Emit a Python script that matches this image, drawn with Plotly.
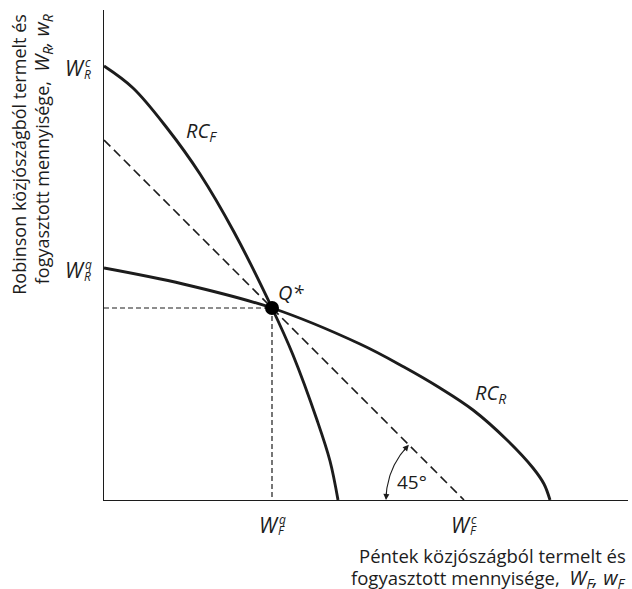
import numpy as np
import plotly.graph_objects as go

# ---- data ----
rcf_x = [0, 2.9, 6.3, 9.6, 13.0, 16.8, 18.9, 21.3, 22.6, 23.4]
rcf_y = [43.4, 41.2, 37.2, 32.6, 26.8, 19.2, 14.5, 8.0, 3.9, 0]
rcr_x = [0, 7.9, 16.8, 25.6, 30.0, 33.6, 36.9, 40.3, 42.9, 44.0, 44.6]
rcr_y = [23.2, 21.6, 19.2, 15.6, 13.3, 11.2, 9.0, 6.0, 3.2, 1.6, 0]
q_star = [16.8, 19.2]
diag_intercept = 36.0  # 45-degree dashed line
x_tick_vals = [16.8, 36.0]
x_tick_sup = ["q", "c"]
x_tick_sub = "F"
y_tick_vals = [43.4, 23.2]
y_tick_sup = ["c", "q"]
y_tick_sub = "R"
angle_label = "45°"
x_title_lines = ["Péntek közjószágból termelt és",
                 "fogyasztott mennyisége,&nbsp;&nbsp;<span style='font-size:20px'><i>W<sub>F</sub>, w<sub>F</sub></i></span>"]
y_title = ("Robinson közjószágból termelt és<br>fogyasztott mennyisége,&nbsp;&nbsp;"
           "<span style='font-size:20px'><i>W<sub>R</sub>, w<sub>R</sub></i></span>")

INK = "#1c1c1c"
FONT = "Open Sans"

fig = go.Figure()

# dashed guide lines
fig.add_trace(go.Scatter(x=[0, diag_intercept], y=[diag_intercept, 0], mode="lines",
                         line=dict(color=INK, width=1.6, dash="9px,5px"), hoverinfo="skip"))
fig.add_trace(go.Scatter(x=[0, q_star[0]], y=[q_star[1], q_star[1]], mode="lines",
                         line=dict(color=INK, width=1.2, dash="5px,3px"), hoverinfo="skip"))
fig.add_trace(go.Scatter(x=[q_star[0], q_star[0]], y=[q_star[1], 0], mode="lines",
                         line=dict(color=INK, width=1.2, dash="5px,3px"), hoverinfo="skip"))

# reaction curves
fig.add_trace(go.Scatter(x=rcf_x, y=rcf_y, mode="lines",
                         line=dict(color=INK, width=2.9, shape="spline", smoothing=1.0), hoverinfo="skip"))
fig.add_trace(go.Scatter(x=rcr_x, y=rcr_y, mode="lines",
                         line=dict(color=INK, width=2.9, shape="spline", smoothing=1.0), hoverinfo="skip"))

# 45 degree arc
cx = diag_intercept
r = 7.8
th = np.linspace(np.pi * 0.75 + 0.03, np.pi - 0.03, 40)
fig.add_trace(go.Scatter(x=cx + r * np.cos(th), y=r * np.sin(th), mode="lines",
                         line=dict(color=INK, width=1.1), hoverinfo="skip"))

# equilibrium point
fig.add_trace(go.Scatter(x=[q_star[0]], y=[q_star[1]], mode="markers",
                         marker=dict(color="black", size=14), hoverinfo="skip"))

ann = []
# arc arrowheads
for t_tip, t_tail in [(np.pi, np.pi - 0.12), (np.pi * 0.75, np.pi * 0.75 + 0.12)]:
    ann.append(dict(x=cx + r * np.cos(t_tip), y=r * np.sin(t_tip),
                    ax=cx + r * np.cos(t_tail), ay=r * np.sin(t_tail),
                    xref="x", yref="y", axref="x", ayref="y", text="",
                    showarrow=True, arrowhead=2, arrowsize=1.1, arrowwidth=1.1, arrowcolor=INK))
ann.append(dict(x=30.8, y=1.8, xref="x", yref="y", text=angle_label, showarrow=False,
                font=dict(size=19, color=INK, family=FONT)))

# curve labels
ann.append(dict(x=9.7, y=36.9, xref="x", yref="y", text="<i>RC</i><sub><i>F</i></sub>", showarrow=False,
                font=dict(size=20, color=INK, family=FONT)))
ann.append(dict(x=38.6, y=10.7, xref="x", yref="y", text="<i>RC</i><sub><i>R</i></sub>", showarrow=False,
                font=dict(size=20, color=INK, family=FONT)))
ann.append(dict(x=18.7, y=20.8, xref="x", yref="y", text="<i>Q*</i>", showarrow=False,
                font=dict(size=20, color=INK, family=FONT)))

# x tick labels  (W with stacked sup/sub)
for xv, sup in zip(x_tick_vals, x_tick_sup):
    ann.append(dict(x=xv, y=0, xref="x", yref="paper", yanchor="middle", xanchor="center", xshift=-3, yshift=-25,
                    text="<i>W</i>", showarrow=False, font=dict(size=21, color=INK, family=FONT)))
    ann.append(dict(x=xv, y=0, xref="x", yref="paper", yanchor="middle", xanchor="center", xshift=10, yshift=-19,
                    text="<i>" + sup + "</i>", showarrow=False, font=dict(size=12, color=INK, family=FONT)))
    ann.append(dict(x=xv, y=0, xref="x", yref="paper", yanchor="middle", xanchor="center", xshift=9, yshift=-30,
                    text="<i>" + x_tick_sub + "</i>", showarrow=False, font=dict(size=12, color=INK, family=FONT)))

# y tick labels
for yv, sup in zip(y_tick_vals, y_tick_sup):
    ann.append(dict(x=0, y=yv, xref="paper", yref="y", xanchor="center", yanchor="middle", xshift=-29, yshift=-2,
                    text="<i>W</i>", showarrow=False, font=dict(size=21, color=INK, family=FONT)))
    ann.append(dict(x=0, y=yv, xref="paper", yref="y", xanchor="center", yanchor="middle", xshift=-16, yshift=4,
                    text="<i>" + sup + "</i>", showarrow=False, font=dict(size=12, color=INK, family=FONT)))
    ann.append(dict(x=0, y=yv, xref="paper", yref="y", xanchor="center", yanchor="middle", xshift=-17, yshift=-8,
                    text="<i>" + y_tick_sub + "</i>", showarrow=False, font=dict(size=12, color=INK, family=FONT)))

# axis titles
for i, line in enumerate(x_title_lines):
    ann.append(dict(x=1.0, y=0, xref="paper", yref="paper", xanchor="right", yanchor="middle",
                    yshift=-55 - 23 * i, xshift=0, showarrow=False, text=line,
                    font=dict(size=18.5, color=INK, family=FONT)))
ann.append(dict(x=-0.137, y=0.705, xref="paper", yref="paper", xanchor="center", yanchor="middle",
                textangle=-90, align="right", showarrow=False, text=y_title,
                font=dict(size=18, color=INK, family=FONT)))

fig.update_layout(
    width=632, height=589,
    margin=dict(l=104, r=4, t=10, b=89),
    paper_bgcolor="white", plot_bgcolor="white",
    showlegend=False,
    annotations=ann,
    font=dict(family=FONT, color=INK),
)
fig.update_xaxes(range=[0, 52.4], showgrid=False, zeroline=False, showticklabels=False, ticks="",
                 showline=True, linecolor=INK, linewidth=1.3)
fig.update_yaxes(range=[0, 49], showgrid=False, zeroline=False, showticklabels=False, ticks="",
                 showline=True, linecolor=INK, linewidth=1.3)

# remove the default page margin so the figure fills the window exactly
fig.write_html("out.html", config={"displayModeBar": False},
               post_script="document.body.style.margin='0';document.body.style.overflow='hidden';")
